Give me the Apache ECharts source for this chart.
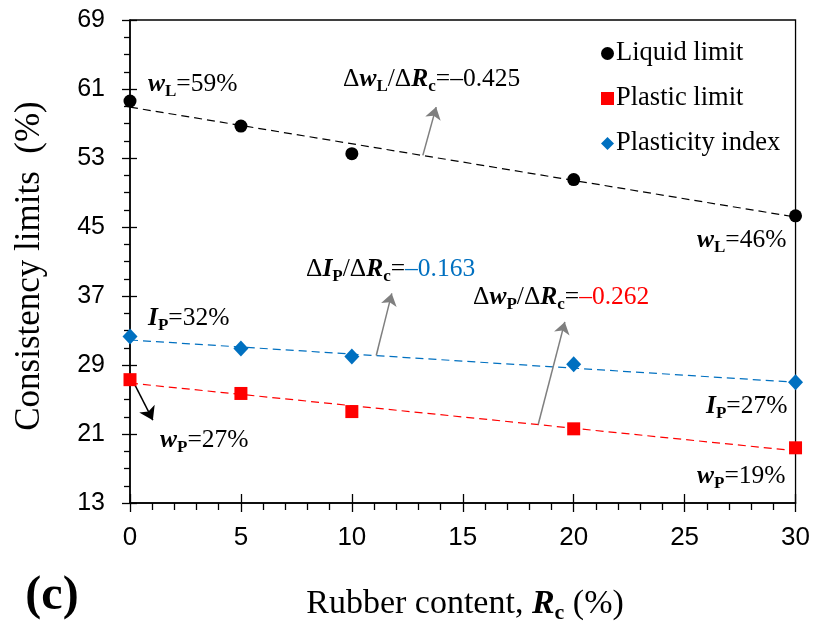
<!DOCTYPE html>
<html><head><meta charset="utf-8">
<script src="https://cdn.jsdelivr.net/npm/echarts@6/dist/echarts.min.js"></script>
<style>html,body{margin:0;padding:0;background:#fff}#c{width:813px;height:631px}</style>
</head><body><div id="c"></div>
<script>
// ---- data ----
const rubberContent = [0, 5, 10, 20, 30];
const liquidLimit = [59.6, 56.7, 53.5, 50.5, 46.3];
const plasticLimit = [27.3, 25.7, 23.6, 21.6, 19.4];
const plasticityIndex = [32.3, 30.9, 30.0, 29.1, 27.0];
const trendX = [0, 30];
const trendLiquid = [58.9, 46.15];
const trendPlastic = [26.9, 19.05];
const trendIndex = [31.9, 27.0];
const yMajorTicks = [13, 21, 29, 37, 45, 53, 61, 69];
const yMinorTicks = [15, 17, 19, 23, 25, 27, 31, 33, 35, 39, 41, 43, 47, 49, 51, 55, 57, 59, 63, 65, 67];
const xTicks = [0, 5, 10, 15, 20, 25, 30];
// annotation arrows (data coordinates): [start, end]
const arrowLiquid = [[13.2, 53.3], [13.8, 58.9]];
const arrowIndex = [[11.1, 30.1], [11.8, 37.3]];
const arrowPlastic = [[18.4, 22.1], [19.6, 34.0]];
const arrowWp = [[0.22, 26.7], [1.03, 22.6]];

const SERIF = "'Times New Roman','Liberation Serif',serif";
const SANS = "Arial,'Liberation Sans',sans-serif";
const pair = (xs, ys) => xs.map((x, i) => [x, ys[i]]);

const FS = 25.5;
const rich = {
  n: {fontFamily: SERIF, fontSize: FS, fill: '#000', lineHeight: 32},
  bi: {fontFamily: SERIF, fontSize: FS, fontWeight: 'bold', fontStyle: 'italic', fill: '#000', lineHeight: 32},
  s: {fontFamily: SERIF, fontSize: 17, fontWeight: 'bold', fill: '#000', lineHeight: 15, verticalAlign: 'bottom'},
  blue: {fontFamily: SERIF, fontSize: FS, fill: '#0070C0', lineHeight: 32},
  red: {fontFamily: SERIF, fontSize: FS, fill: '#FF0000', lineHeight: 32},
  t: {fontFamily: SERIF, fontSize: 34, fill: '#000', lineHeight: 40},
  tbi: {fontFamily: SERIF, fontSize: 34, fontWeight: 'bold', fontStyle: 'italic', fill: '#000', lineHeight: 40},
  ts: {fontFamily: SERIF, fontSize: 22, fontWeight: 'bold', fill: '#000', lineHeight: 20, verticalAlign: 'bottom'}
};

function txt(x, y, text, align) {
  return {
    type: 'text', x: x, y: y, silent: true,
    style: {text: text, rich: rich, align: align || 'left', verticalAlign: 'middle'}
  };
}

function arrowLine(a, color, size) {
  return [{coord: a[0], symbol: 'none', lineStyle: {color: color}}, {coord: a[1], symbol: 'arrow', symbolSize: size}];
}

const chart = echarts.init(document.getElementById('c'));
const tickStyle = {color: '#000', width: 1.3};
chart.setOption({
  animation: false,
  backgroundColor: '#fff',
  grid: {left: 130, right: 16, top: 20, bottom: 128, show: true, borderColor: '#000', borderWidth: 1.3, containLabel: false},
  legend: {
    orient: 'vertical', left: 596, top: 35, itemGap: 18, itemWidth: 13, itemHeight: 13,
    textStyle: {fontFamily: SERIF, fontSize: 26.5, color: '#000', padding: [0, 0, 0, -3]},
    data: [
      {name: 'Liquid limit', icon: 'circle'},
      {name: 'Plastic limit', icon: 'rect'},
      {name: 'Plasticity index', icon: 'diamond'}
    ]
  },
  xAxis: [
    {type: 'value', min: 0, max: 30, interval: 5, position: 'bottom',
     axisLine: {lineStyle: {color: '#000', width: 1.5}},
     axisTick: {length: 9, lineStyle: tickStyle},
     minorTick: {show: true, splitNumber: 5, length: 7, lineStyle: tickStyle},
     splitLine: {show: false},
     axisLabel: {margin: 22, fontSize: 26, color: '#000', fontFamily: SANS, customValues: xTicks}},
    {type: 'value', min: 0, max: 30, interval: 5, position: 'bottom',
     axisLine: {show: false},
     axisTick: {inside: true, length: 9, lineStyle: tickStyle},
     splitLine: {show: false}, axisLabel: {show: false}}
  ],
  yAxis: [
    {type: 'value', min: 13, max: 69, position: 'left',
     axisLine: {show: true, lineStyle: {color: '#000', width: 1.5}},
     axisTick: {show: true, length: 8, lineStyle: tickStyle, customValues: yMajorTicks},
     splitLine: {show: false},
     axisLabel: {margin: 25, fontSize: 25, color: '#000', fontFamily: SANS, customValues: yMajorTicks}},
    {type: 'value', min: 13, max: 69, position: 'left',
     axisLine: {show: false},
     axisTick: {show: true, inside: true, length: 7, lineStyle: tickStyle, customValues: yMajorTicks},
     splitLine: {show: false}, axisLabel: {show: false}},
    {type: 'value', min: 13, max: 69, position: 'left',
     axisLine: {show: false},
     axisTick: {show: true, length: 6, lineStyle: tickStyle, customValues: yMinorTicks},
     splitLine: {show: false}, axisLabel: {show: false}}
  ],
  series: [
    {name: 'trendL', type: 'line', data: pair(trendX, trendLiquid), symbol: 'none',
     lineStyle: {color: '#000', width: 1.2, type: [8, 5]}, z: 2,
     markLine: {silent: true, symbol: ['none', 'arrow'], symbolSize: 12, label: {show: false},
       lineStyle: {type: 'solid', color: '#7f7f7f', width: 1.5},
       data: [arrowLine(arrowLiquid, '#7f7f7f', 12), arrowLine(arrowIndex, '#7f7f7f', 12), arrowLine(arrowPlastic, '#7f7f7f', 12)]}},
    {name: 'trendP', type: 'line', data: pair(trendX, trendPlastic), symbol: 'none',
     lineStyle: {color: '#FF0000', width: 1.2, type: [8, 5]}, z: 2,
     markLine: {silent: true, symbol: ['none', 'arrow'], symbolSize: 13, label: {show: false},
       lineStyle: {type: 'solid', color: '#000', width: 1.5},
       data: [arrowLine(arrowWp, '#000', 13)]}},
    {name: 'trendI', type: 'line', data: pair(trendX, trendIndex), symbol: 'none',
     lineStyle: {color: '#0070C0', width: 1.2, type: [8, 5]}, z: 2},
    {name: 'Liquid limit', type: 'scatter', data: pair(rubberContent, liquidLimit), symbol: 'circle', symbolSize: 13,
     itemStyle: {color: '#000', opacity: 1}, z: 5},
    {name: 'Plastic limit', type: 'scatter', data: pair(rubberContent, plasticLimit), symbol: 'rect', symbolSize: 13,
     itemStyle: {color: '#FF0000', opacity: 1}, z: 5},
    {name: 'Plasticity index', type: 'scatter', data: pair(rubberContent, plasticityIndex), symbol: 'diamond', symbolSize: [15, 16],
     itemStyle: {color: '#0070C0', opacity: 1}, z: 5}
  ],
  graphic: [
    txt(148, 84, '{bi|w}{s|L}{n|=59%}'),
    txt(697, 240, '{bi|w}{s|L}{n|=46%}'),
    txt(148, 318, '{bi|I}{s|P}{n|=32%}'),
    txt(706, 406, '{bi|I}{s|P}{n|=27%}'),
    txt(160, 440, '{bi|w}{s|P}{n|=27%}'),
    txt(697, 476, '{bi|w}{s|P}{n|=19%}'),
    txt(343, 79, '{n|Δ}{bi|w}{s|L}{n|/Δ}{bi|R}{s|c}{n|=–0.425}'),
    txt(306, 269, '{n|Δ}{bi|I}{s|P}{n|/Δ}{bi|R}{s|c}{n|=}{blue|–0.163}'),
    txt(473, 297, '{n|Δ}{bi|w}{s|P}{n|/Δ}{bi|R}{s|c}{n|=}{red|–0.262}'),
    txt(465, 604, '{t|Rubber content, }{tbi|R}{ts|c}{t| (%)}', 'center'),
    {type: 'text', x: 30, y: 266, rotation: Math.PI / 2, silent: true,
     style: {text: 'Consistency limits  (%)', fontFamily: SERIF, fontSize: 35, fill: '#000', align: 'center', verticalAlign: 'middle'}},
    {type: 'text', x: 52, y: 597, silent: true,
     style: {text: '(c)', fontFamily: SERIF, fontSize: 48, fontWeight: 'bold', fill: '#000', align: 'center', verticalAlign: 'middle'}}
  ]
});
</script>
</body></html>
